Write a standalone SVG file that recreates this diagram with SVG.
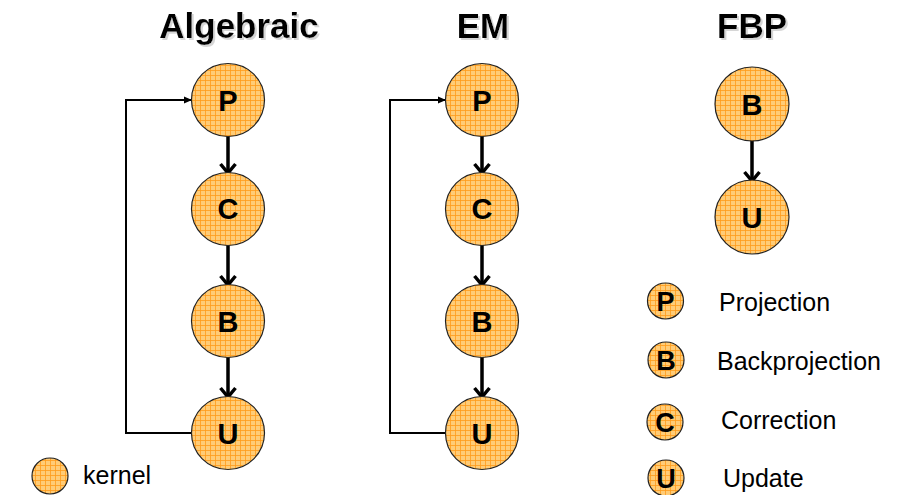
<svg xmlns="http://www.w3.org/2000/svg" width="900" height="495" viewBox="0 0 900 495">
<defs>
<pattern id="grid" width="5" height="5" patternUnits="userSpaceOnUse">
<rect width="5" height="5" fill="#FFCC77"/>
<path d="M0 0.5H5M0.5 0V5" stroke="#FF9A1A" stroke-width="0.8" fill="none"/>
</pattern>
<filter id="shadow" x="-10%" y="-20%" width="130%" height="150%">
<feOffset in="SourceAlpha" dx="2" dy="2" result="o"/>
<feGaussianBlur in="o" stdDeviation="0.6" result="b"/>
<feColorMatrix in="b" type="matrix" values="0 0 0 0 0.6  0 0 0 0 0.6  0 0 0 0 0.6  0 0 0 0.8 0" result="s"/>
<feMerge><feMergeNode in="s"/><feMergeNode in="SourceGraphic"/></feMerge>
</filter>
<marker id="chev" markerWidth="14" markerHeight="18" refX="11" refY="9" orient="auto" markerUnits="userSpaceOnUse" viewBox="0 0 14 18">
<path d="M2 1.5L11 9L2 16.5" fill="none" stroke="#000" stroke-width="3.5"/>
</marker>
<marker id="tri" markerWidth="8" markerHeight="8" refX="7" refY="4" orient="auto" markerUnits="userSpaceOnUse" viewBox="0 0 8 8">
<path d="M0 0.5L8 4L0 7.5Z" fill="#000"/>
</marker>
</defs>
<style>
.node circle{fill:url(#grid);stroke:#222;stroke-width:1.2}
.lbl{font-family:"Liberation Sans",Arial,sans-serif;font-weight:bold;font-size:29px;text-anchor:middle;fill:#000}
.sml{font-family:"Liberation Sans",Arial,sans-serif;font-weight:bold;font-size:27px;text-anchor:middle;fill:#000}
.title{font-family:"Liberation Sans",Arial,sans-serif;font-weight:bold;font-size:35px;text-anchor:middle;fill:#000;filter:url(#shadow)}
.txt{font-family:"Liberation Sans",Arial,sans-serif;font-size:25px;fill:#000}
.down{stroke:#000;stroke-width:3.5;fill:none;marker-end:url(#chev)}
.loop{stroke:#000;stroke-width:2;fill:none;marker-end:url(#tri)}
</style>
<g id="titles">
<text class="title" x="239" y="38">Algebraic</text>
<text class="title" x="483" y="38">EM</text>
<text class="title" x="752" y="38">FBP</text>
</g>
<g id="connectors">
<path class="down" d="M228 135V173"/>
<path class="down" d="M228 244V285"/>
<path class="down" d="M228 356V397"/>
<path class="loop" d="M192 433H126V100H191"/>
<path class="down" d="M482 135V173"/>
<path class="down" d="M482 244V285"/>
<path class="down" d="M482 356V397"/>
<path class="loop" d="M446 433H390V100H445"/>
<path class="down" d="M752 140V181"/>
</g>
<g id="alg-P" class="node"><circle cx="228" cy="100" r="36.5"/><text class="lbl" x="228" y="110.5">P</text></g>
<g id="alg-C" class="node"><circle cx="228" cy="209" r="36.5"/><text class="lbl" x="228" y="218.5">C</text></g>
<g id="alg-B" class="node"><circle cx="228" cy="321" r="36.5"/><text class="lbl" x="228" y="331.5">B</text></g>
<g id="alg-U" class="node"><circle cx="228" cy="433" r="36.5"/><text class="lbl" x="228" y="443.5">U</text></g>
<g id="em-P" class="node"><circle cx="482" cy="100" r="36.5"/><text class="lbl" x="482" y="110.5">P</text></g>
<g id="em-C" class="node"><circle cx="482" cy="209" r="36.5"/><text class="lbl" x="482" y="218.5">C</text></g>
<g id="em-B" class="node"><circle cx="482" cy="321" r="36.5"/><text class="lbl" x="482" y="331.5">B</text></g>
<g id="em-U" class="node"><circle cx="482" cy="433" r="36.5"/><text class="lbl" x="482" y="443.5">U</text></g>
<g id="fbp-B" class="node"><circle cx="752" cy="104" r="37"/><text class="lbl" x="752" y="114.5">B</text></g>
<g id="fbp-U" class="node"><circle cx="752" cy="217" r="37"/><text class="lbl" x="752" y="227.5">U</text></g>
<g id="legend-P" class="node"><circle cx="665.5" cy="301" r="18"/><text class="sml" x="665.5" y="310.5">P</text><text class="txt" x="719" y="311">Projection</text></g>
<g id="legend-B" class="node"><circle cx="666" cy="360" r="18"/><text class="sml" x="666" y="369.5">B</text><text class="txt" x="717" y="370">Backprojection</text></g>
<g id="legend-C" class="node"><circle cx="665" cy="422" r="18"/><text class="sml" x="665" y="431.5">C</text><text class="txt" x="721" y="429">Correction</text></g>
<g id="legend-U" class="node"><circle cx="666" cy="478" r="18"/><text class="sml" x="666" y="487.5">U</text><text class="txt" x="723" y="487">Update</text></g>
<g id="legend-kernel" class="node"><circle cx="50" cy="476" r="18"/><text class="txt" x="83" y="484">kernel</text></g>
</svg>
